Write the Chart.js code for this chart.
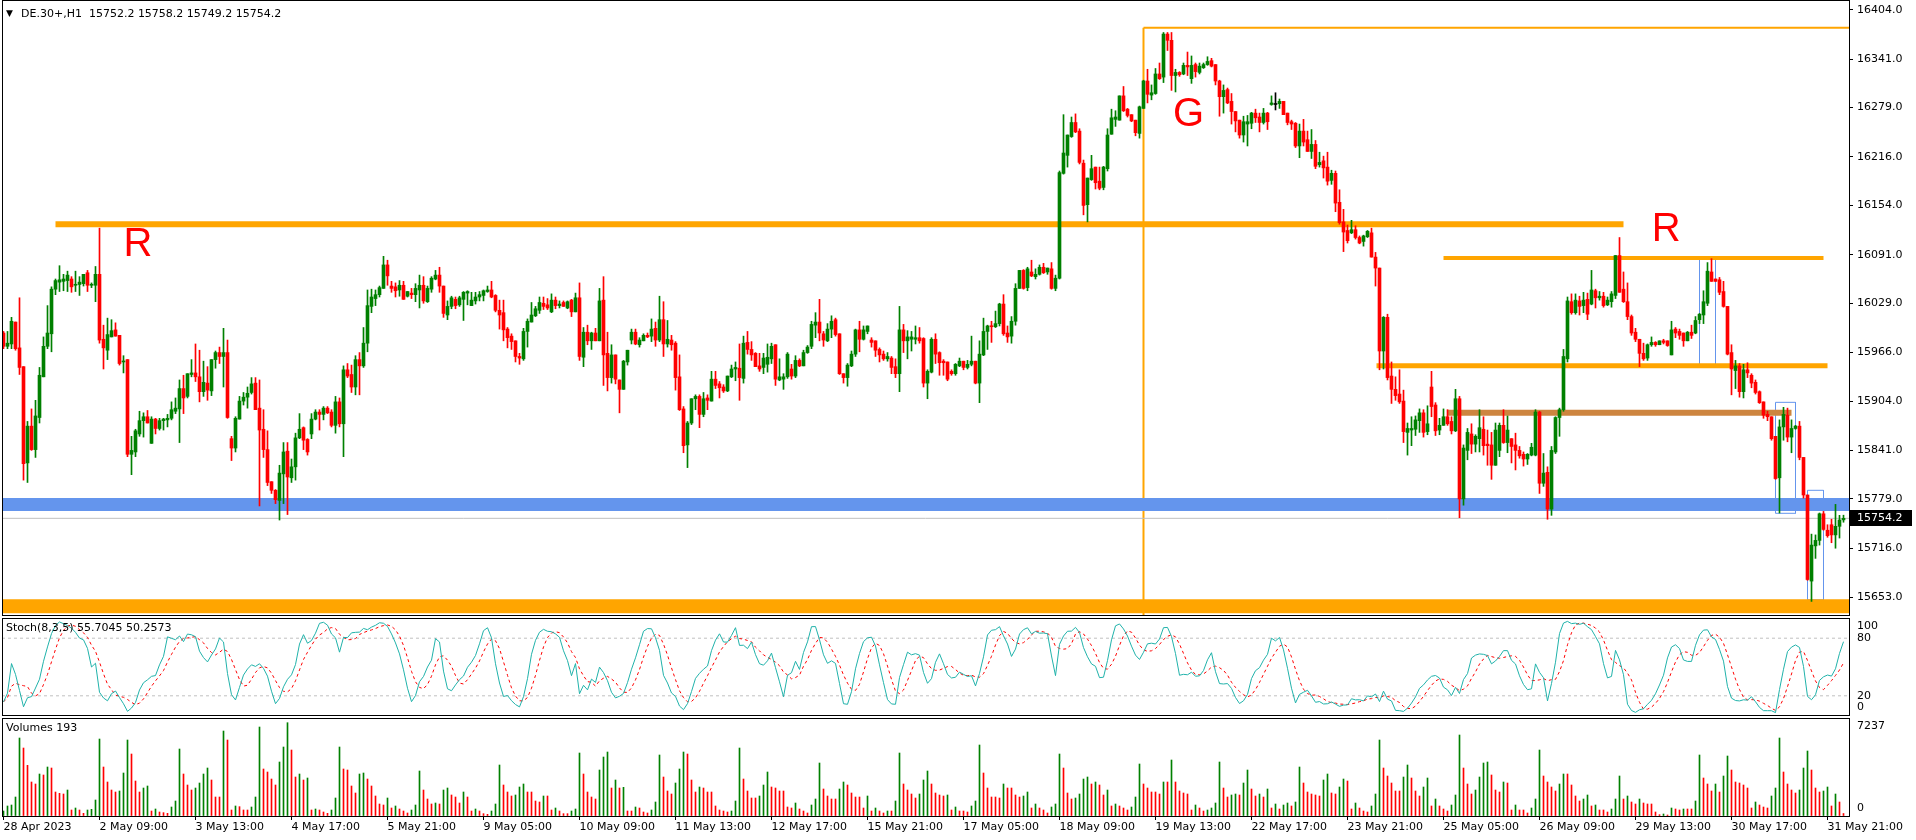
<!DOCTYPE html>
<html lang="en">
<head>
<meta charset="utf-8">
<title>DE.30+,H1</title>
<script src="https://cdn.jsdelivr.net/npm/chart.js@4.4.1/dist/chart.umd.min.js"></script>
<style>
  html, body { margin: 0; padding: 0; background: #fff; overflow: hidden; }
  #terminal { position: relative; width: 1916px; height: 840px; }
  #terminal canvas { position: absolute; left: 0; }
</style>
</head>
<body>
<div id="terminal">
  <canvas id="priceChart" width="1916" height="617" style="top:0"></canvas>
  <canvas id="stochChart" width="1916" height="100" style="top:617px"></canvas>
  <canvas id="volumeChart" width="1916" height="123" style="top:717px"></canvas>
</div>
<script>
/* chart values ###################### */
const symbolName = "DE.30+,H1";

const timeLabels = [
  "28 Apr 2023", "2 May 09:00", "3 May 13:00", "4 May 17:00", "5 May 21:00",
  "9 May 05:00", "10 May 09:00", "11 May 13:00", "12 May 17:00", "15 May 21:00",
  "17 May 05:00", "18 May 09:00", "19 May 13:00", "22 May 17:00", "23 May 21:00",
  "25 May 05:00", "26 May 09:00", "29 May 13:00", "30 May 17:00", "31 May 21:00",
];
const labelStep = 24; // bars between two time labels

const priceTicks = [16404.0, 16341.0, 16279.0, 16216.0, 16154.0, 16091.0, 16029.0,
  15966.0, 15904.0, 15841.0, 15779.0, 15716.0, 15653.0];
const stochTicks = [100, 80, 20, 0];
const stochLevels = [20, 80];
const stochTitle = "Stoch(8,3,5) 55.7045 50.2573";
const volumeTicks = [7237, 0];

const opens = [
  15991,15974,15977,16005,15972,15948,15825,15872,15842,15883,
  15935,15974,15990,16047,16056,16057,16058,16060,16052,16053,
  16054,16068,16052,16052,16066,15983,15969,15986,15995,15988,
  15954,15957,15836,15839,15862,15879,15884,15850,15881,15869,
  15879,15880,15882,15891,15894,15920,15910,15938,15940,15935,
  15916,15927,15917,15957,15966,15961,15966,15856,15844,15881,
  15904,15909,15915,15927,15895,15868,15842,15801,15790,15777,
  15811,15840,15806,15820,15857,15870,15855,15862,15881,15890,
  15887,15895,15890,15873,15903,15875,15944,15938,15922,15957,
  15949,15978,16025,16035,16040,16048,16078,16051,16050,16046,
  16052,16038,16042,16040,16046,16052,16031,16047,16060,16065,
  16051,16014,16025,16034,16027,16034,16042,16026,16032,16037,
  16039,16044,16046,16039,16020,16017,15996,15987,15981,15961,
  15958,15993,16005,16013,16020,16029,16027,16018,16033,16026,
  16030,16023,16033,16018,16036,15960,15992,15981,15991,15981,
  16033,15965,15934,15963,15931,15919,15954,15982,15992,15976,
  15981,15988,15987,15997,15982,16008,15977,15982,15978,15935,
  15894,15848,15876,15907,15910,15887,15908,15904,15932,15926,
  15922,15917,15935,15945,15946,15933,15979,15970,15965,15949,
  15947,15951,15958,15976,15931,15932,15935,15945,15936,15956,
  15949,15966,15974,16001,16005,15990,15981,15996,16008,15990,
  15939,15934,15949,15964,15995,15983,15993,15982,15981,15970,
  15964,15958,15959,15948,15939,15995,15981,15983,15983,15985,
  15984,15927,15941,15983,15966,15955,15954,15942,15939,15949,
  15955,15947,15951,15955,15927,15963,15993,16000,15999,16003,
  16028,15991,15987,16006,16048,16071,16049,16069,16063,16066,
  16075,16069,16073,16048,16061,16195,16218,16242,16260,16249,
  16208,16155,16187,16203,16185,16177,16201,16245,16264,16263,
  16294,16277,16270,16263,16246,16278,16313,16295,16297,16322,
  16318,16373,16365,16320,16324,16322,16333,16316,16334,16324,
  16330,16334,16339,16334,16313,16293,16302,16287,16274,16263,
  16244,16258,16259,16272,16267,16260,16272,16283,16283,16284,
  16287,16272,16261,16259,16230,16249,16238,16223,16232,16206,
  16211,16203,16186,16195,16158,16133,16122,16119,16123,16113,
  16108,16114,16119,16088,16074,15968,16011,15936,15919,15913,
  15904,15864,15867,15868,15879,15889,15865,15922,15899,15867,
  15873,15884,15878,15866,15907,15779,15841,15862,15849,15856,
  15868,15849,15848,15822,15841,15873,15851,15856,15848,15841,
  15836,15830,15835,15835,15890,15799,15813,15766,15839,15883,
  15893,15958,16031,16017,16032,16026,16034,16028,16045,16036,
  16038,16027,16031,16039,16090,16047,16031,16012,15992,15983,
  15965,15959,15976,15979,15976,15981,15981,15963,15996,15993,
  15991,15981,15992,15991,16008,16014,16029,16069,16060,16059,
  16044,16025,15966,15943,15949,15916,15944,15937,15928,15916,
  15903,15887,15884,15859,15806,15871,15886,15858,15869,15872,
  15832,15784,15674,15719,15726,15760,15739,15746,15733,15744,15752.2,
];
const highs = [
  15993,15993,16011,16005,16036,15948,15878,15894,15905,15947,
  15986,16026,16050,16060,16077,16066,16070,16063,16070,16063,
  16066,16071,16055,16076,16125,16001,16010,16008,16004,15988,
  15962,15957,15859,15868,15891,15889,15892,15884,15882,15882,
  15882,15887,15903,15908,15931,15937,15939,15957,15977,15969,
  15955,15948,15957,15968,15973,15997,15982,15859,15884,15910,
  15915,15922,15934,15934,15931,15893,15866,15801,15791,15822,
  15851,15851,15830,15863,15888,15871,15856,15888,15893,15893,
  15897,15897,15893,15910,15908,15949,15952,15950,15962,15966,
  15998,16046,16047,16046,16051,16089,16084,16057,16055,16058,
  16057,16044,16048,16054,16065,16063,16051,16063,16071,16075,
  16051,16032,16038,16037,16038,16044,16045,16043,16043,16044,
  16046,16051,16057,16040,16033,16033,15998,15990,15981,15965,
  15997,16009,16030,16025,16037,16037,16035,16041,16037,16032,
  16032,16032,16034,16042,16055,15998,16001,15992,15997,16048,
  16063,15992,15976,15963,15931,15956,15969,15996,15996,15985,
  15990,15991,16009,16005,16038,16031,16007,15988,15980,15963,
  15897,15878,15907,15912,15912,15915,15912,15942,15942,15929,
  15925,15936,15950,15954,15977,15987,15993,15980,15966,15965,
  15965,15977,15978,15976,15958,15939,15966,15951,15962,15958,
  15969,15975,16006,16017,16034,15993,16003,16013,16010,15990,
  15939,15952,15968,15996,16006,16000,16000,15985,15981,15972,
  15968,15966,15961,15958,16025,16002,15994,15993,16000,15998,
  15985,15944,15985,15990,15967,15957,15954,15944,15952,15959,
  15955,15956,15987,15955,15981,16010,16001,16006,16019,16029,
  16040,16000,16012,16054,16071,16072,16075,16084,16073,16078,
  16080,16074,16081,16065,16198,16270,16244,16267,16271,16252,
  16212,16189,16218,16203,16203,16204,16252,16277,16275,16294,
  16306,16278,16270,16263,16281,16314,16328,16308,16329,16336,
  16375,16375,16375,16328,16325,16336,16350,16345,16336,16336,
  16336,16344,16342,16334,16314,16308,16304,16297,16274,16263,
  16268,16269,16273,16277,16272,16278,16273,16294,16298,16290,
  16287,16272,16263,16260,16258,16264,16249,16251,16237,16222,
  16217,16222,16199,16198,16174,16149,16129,16135,16128,16115,
  16116,16122,16125,16094,16074,16012,16015,15954,15935,15944,
  15918,15876,15884,15885,15894,15893,15898,15942,15902,15882,
  15894,15893,15884,15919,15910,15848,15869,15875,15861,15893,
  15884,15867,15864,15876,15876,15893,15885,15856,15863,15846,
  15839,15837,15850,15893,15891,15837,15820,15846,15884,15895,
  15970,16037,16041,16041,16038,16043,16042,16071,16047,16044,
  16043,16037,16044,16090,16113,16069,16055,16014,15997,15983,
  15978,15977,15986,15980,15981,15983,15981,16006,15998,15996,
  15991,15993,16001,16012,16016,16045,16081,16086,16060,16062,
  16057,16025,15976,15956,15952,15951,15953,15939,15931,15917,
  15903,15891,15884,15859,15880,15896,15895,15880,15873,15878,
  15832,15784,15734,15733,15761,15763,15746,15753,15772,15758,15758.2,
];
const lows = [
  15971,15971,15971,15969,15938,15803,15800,15841,15832,15876,
  15935,15971,15967,16040,16044,16045,16044,16043,16044,16039,
  16051,16044,16049,16031,15978,15945,15957,15986,15987,15950,
  15940,15833,15810,15833,15859,15858,15876,15850,15862,15867,
  15867,15871,15880,15888,15851,15888,15908,15935,15929,15903,
  15910,15905,15911,15946,15952,15922,15882,15828,15839,15881,
  15899,15895,15913,15893,15770,15832,15796,15786,15773,15752,
  15773,15759,15800,15803,15856,15842,15835,15856,15880,15867,
  15880,15888,15871,15863,15871,15833,15934,15915,15912,15912,
  15947,15967,16017,16026,16037,16048,16052,16043,16037,16038,
  16034,16037,16035,16031,16023,16029,16030,16043,16059,16043,
  16011,16008,16022,16022,16025,16007,16027,16026,16028,16032,
  16032,16043,16036,16018,15996,15981,15972,15970,15954,15951,
  15956,15973,16005,16012,16016,16021,16021,16017,16022,16023,
  16025,16022,16012,16018,15956,15948,15976,15970,15981,15981,
  15924,15917,15927,15926,15889,15919,15950,15977,15976,15973,
  15981,15985,15980,15974,15980,15961,15973,15969,15918,15892,
  15838,15819,15874,15893,15870,15884,15893,15904,15920,15908,
  15915,15916,15934,15930,15905,15927,15964,15956,15948,15942,
  15939,15941,15952,15924,15930,15919,15933,15932,15934,15948,
  15949,15965,15971,15985,15981,15974,15980,15985,15987,15938,
  15927,15923,15948,15961,15967,15982,15990,15973,15961,15954,
  15956,15955,15939,15934,15916,15966,15958,15968,15977,15978,
  15922,15907,15940,15952,15937,15937,15930,15937,15937,15948,
  15944,15945,15949,15926,15902,15962,15970,15979,15998,16000,
  15988,15979,15978,16001,16048,16047,16045,16063,16060,16065,
  16067,16066,16047,16045,16060,16194,16203,16241,16247,16207,
  16142,16133,16186,16175,16174,16174,16198,16245,16255,16263,
  16274,16267,16261,16243,16240,16278,16285,16289,16296,16315,
  16311,16352,16301,16299,16319,16321,16320,16310,16318,16322,
  16329,16333,16331,16308,16268,16272,16284,16258,16248,16240,
  16235,16230,16252,16260,16248,16258,16251,16282,16276,16278,
  16270,16257,16251,16228,16215,16230,16223,16214,16201,16203,
  16189,16180,16181,16146,16130,16095,16106,16118,16111,16105,
  16102,16113,16088,16051,15944,15945,15931,15901,15905,15901,
  15851,15835,15847,15860,15864,15858,15861,15884,15860,15861,
  15873,15873,15862,15865,15755,15771,15829,15837,15839,15839,
  15835,15822,15804,15822,15833,15850,15838,15825,15816,15831,
  15821,15823,15834,15834,15786,15795,15753,15758,15837,15859,
  15891,15954,16015,16015,16014,16017,16008,16027,16023,16033,
  16024,16026,16024,16035,16043,16030,16008,15988,15980,15948,
  15956,15956,15974,15974,15976,15977,15974,15963,15985,15983,
  15974,15981,15984,15990,16003,16003,16026,16057,16057,16040,
  16024,15963,15912,15920,15909,15908,15934,15921,15913,15901,
  15882,15879,15854,15804,15761,15854,15852,15838,15868,15829,
  15780,15675,15648,15703,15720,15739,15730,15723,15716,15729,15749.2,
];
const closes = [
  15974,15978,16006,15971,15947,15824,15872,15842,15885,15937,
  15974,15991,16047,16058,16059,16060,16065,16050,16053,16056,
  16066,16052,16053,16066,15982,15972,15989,15994,15987,15952,
  15955,15836,15841,15866,15879,15884,15876,15881,15869,15879,
  15881,15882,15893,15895,15920,15908,15939,15940,15935,15916,
  15928,15918,15957,15966,15961,15966,15883,15844,15882,15904,
  15909,15914,15926,15893,15867,15842,15800,15790,15778,15812,
  15839,15807,15820,15857,15868,15854,15839,15881,15890,15887,
  15895,15889,15873,15903,15875,15944,15936,15922,15957,15949,
  15978,16026,16037,16040,16049,16078,16064,16048,16045,16052,
  16034,16044,16040,16048,16052,16032,16048,16061,16065,16051,
  16016,16025,16036,16026,16036,16043,16044,16033,16037,16040,
  16045,16046,16037,16020,16014,15995,15985,15980,15961,15959,
  15993,16006,16014,16022,16030,16025,16023,16033,16026,16028,
  16025,16031,16018,16036,15961,15992,15981,15991,15981,16032,
  15963,15934,15963,15932,15919,15955,15969,15992,15977,15982,
  15988,15986,15996,15982,16008,15977,15983,15976,15934,15893,
  15847,15876,15907,15910,15887,15907,15905,15932,15924,15921,
  15917,15936,15945,15947,15934,15978,15970,15963,15948,15945,
  15959,15960,15974,15932,15935,15935,15964,15936,15956,15949,
  15966,15973,16002,16005,15991,15982,15996,16006,15989,15939,
  15934,15950,15964,15995,15983,15995,16000,15979,15969,15963,
  15958,15961,15947,15939,15995,15981,15986,15986,15985,15981,
  15927,15942,15983,15964,15953,15953,15932,15939,15951,15955,
  15947,15951,15955,15927,15964,15993,16000,15999,16003,16028,
  15990,15986,16006,16048,16071,16048,16073,16064,16066,16075,
  16068,16074,16048,16061,16196,16221,16244,16260,16248,16209,
  16154,16189,16201,16183,16176,16203,16244,16266,16267,16294,
  16275,16269,16262,16247,16280,16313,16296,16298,16322,16316,
  16373,16365,16320,16324,16321,16333,16331,16333,16325,16332,
  16334,16338,16332,16313,16293,16301,16285,16274,16262,16244,
  16261,16261,16272,16266,16260,16272,16261,16285,16283,16287,
  16270,16260,16258,16230,16249,16235,16223,16232,16204,16209,
  16202,16185,16195,16157,16132,16120,16109,16123,16113,16106,
  16115,16121,16088,16074,15968,16011,15934,15919,15911,15903,
  15865,15869,15869,15880,15889,15864,15875,15897,15866,15873,
  15884,15875,15866,15907,15779,15844,15864,15849,15859,15870,
  15847,15847,15822,15867,15873,15851,15867,15846,15841,15834,
  15830,15836,15845,15890,15799,15812,15766,15841,15883,15893,
  15961,16032,16017,16033,16025,16033,16015,16046,16036,16038,
  16026,16033,16041,16090,16043,16031,16012,15991,15983,15965,
  15958,15976,15979,15976,15981,15979,15975,15995,15991,15988,
  15981,15992,15988,16007,16015,16031,16070,16057,16057,16043,
  16025,15964,15945,15949,15916,15944,15940,15927,15915,15902,
  15886,15884,15856,15805,15871,15887,15858,15869,15872,15832,
  15784,15676,15720,15726,15760,15740,15732,15733,15744,15752,15754.2,
];
const volumes = [
  388,776,853,1473,6049,5273,3929,2637,2482,3257,
  3180,3800,3722,1861,1758,1706,2016,465,620,465,
  207,465,517,1241,5971,3800,2637,2016,1861,1939,
  3335,5894,4808,2714,1861,2171,2327,388,543,310,
  259,207,698,1163,5196,3257,2404,2016,2171,2559,
  3257,3722,2792,1473,1473,6592,5894,465,776,724,
  465,465,698,1473,6902,3645,3412,2869,2404,4188,
  5351,7237,5118,3024,3257,2792,2947,465,543,465,
  310,207,465,1396,5351,3645,3567,2327,1784,3257,
  3335,2869,2327,1551,931,853,1396,620,776,543,
  388,233,465,853,3490,2016,1318,931,1008,931,
  2016,2171,1629,1473,1008,1861,1473,388,543,388,
  181,129,388,931,3955,2404,1861,1551,1629,2249,
  2482,1861,1861,1163,1086,1551,1551,465,620,388,
  181,181,388,543,4886,3257,1861,1473,1318,3567,
  4575,4963,2171,2792,2171,2223,388,388,698,620,
  310,233,465,1086,4731,3024,1939,1706,2559,3645,
  4963,4808,2792,1861,2249,2171,1861,1861,776,465,
  388,310,388,1163,5273,2869,1939,1396,1396,1551,
  2404,3412,2249,2171,1939,1939,698,620,1008,543,
  388,233,853,1318,4110,2094,1551,1318,1318,2094,
  2637,2404,1784,1473,1473,620,1551,388,620,388,
  233,388,388,1163,4886,2482,2016,1706,1396,1706,
  2792,3490,2482,1784,1629,1551,1629,465,698,388,
  388,310,776,1163,5506,3335,2171,1473,1473,1396,
  2482,2171,2171,1629,1473,1551,1861,620,931,620,
  465,233,698,931,4808,3722,1784,1318,1396,1706,
  2869,3024,2482,2637,2404,1629,2016,776,931,776,
  620,465,698,1473,4033,2482,2171,1861,1861,1706,
  2637,2637,4343,2637,1939,1784,1706,465,853,620,
  388,465,620,1008,4188,2171,1473,1629,1706,1629,
  2559,3567,2094,1551,1706,1473,2094,620,931,543,
  853,1008,776,1086,3800,2559,1861,1706,1629,1551,
  2792,3257,1784,1706,2249,2869,2714,543,1008,620,
  388,310,776,1706,5894,3722,3102,2559,1939,1939,
  3024,3955,2947,1939,1551,2249,2947,776,1318,776,
  543,388,853,1629,6282,3722,2482,1706,2016,3024,
  4110,4188,3180,2016,1861,2637,2559,465,853,465,
  465,233,620,1318,5118,3102,2637,2249,1939,2482,
  3257,3257,2404,1551,1163,1318,1629,776,853,465,
  465,310,543,1318,3102,1318,1551,1086,931,1318,
  1008,931,931,310,103,155,78,620,543,465,
  543,543,543,1163,4731,2947,2482,1939,2482,1861,
  3102,4653,3567,2637,2559,2404,2171,620,1086,853,
  698,620,1551,2171,6049,3412,2482,2016,1784,2016,
  3722,5041,3567,2171,1861,1939,2249,776,1706,1086,193,
];

/* drawing objects placed on the price window (bar index / price) */
const xMin = -0.375, xMax = 461.375;
const priceMin = 15630.66, priceMax = 16415.24;
const hLines = [
  { x1: 285, x2: xMax, price: 16381, color: "#FFA500", width: 2 },
  { x1: 13, x2: 405, price: 16130, color: "#FFA500", width: 6 },
  { x1: 360, x2: 455, price: 16087, color: "#FFA500", width: 4 },
  { x1: 343.25, x2: 456, price: 15949, color: "#FFA500", width: 5 },
  { x1: 361, x2: 447, price: 15889, color: "#CD853F", width: 6 },
  { x1: xMin, x2: xMax, price: 15772, color: "#6495ED", width: 13 },
  { x1: xMin, x2: xMax, price: 15642, color: "#FFA500", width: 14 },
  { x1: xMin, x2: xMax, price: 15754.2, color: "#C0C0C0", width: 1 },
];
const vLines = [{ x: 285, from: 16381, to: priceMin, color: "#FFA500", width: 2 }];
const boxes = [
  { x1: 424, x2: 428, top: 16087.7, bottom: 15947.2 },
  { x1: 443, x2: 448, top: 15902.4, bottom: 15760.6 },
  { x1: 451, x2: 455, top: 15790, bottom: 15650 },
];
const notes = [
  { text: "R", x: 30, price: 16089 },
  { text: "G", x: 292.4, price: 16256 },
  { text: "R", x: 412.05, price: 16108 },
];

/* common settings ###################### */
const UP = "#008000", DOWN = "#FF0000", DOJI = "#000000";
const AXIS_W = 67;
const FONT = '"DejaVu Sans", "Noto Sans", sans-serif';
const last = closes.length - 1;
const barIdx = closes.map((c, i) => i);

Chart.defaults.font.family = FONT;
Chart.defaults.font.size = 11;
Chart.defaults.color = "#000";
Chart.defaults.elements.point.radius = 0;

const candleColor = barIdx.map((i) =>
  closes[i] > opens[i] ? UP : closes[i] < opens[i] ? DOWN : DOJI
);
const volumeColor = barIdx.map((i) => (i === 0 || volumes[i] > volumes[i - 1] ? UP : DOWN));

// Stochastic(8,3,5) from the candles above
function stochastic(kPeriod, slowing, dPeriod) {
  const hh = [], ll = [];
  barIdx.forEach((i) => {
    const from = Math.max(0, i - kPeriod + 1);
    hh[i] = Math.max(...highs.slice(from, i + 1));
    ll[i] = Math.min(...lows.slice(from, i + 1));
  });
  const main = barIdx.map((i) => {
    let num = 0, den = 0;
    for (let j = Math.max(0, i - slowing + 1); j <= i; j++) {
      num += closes[j] - ll[j];
      den += hh[j] - ll[j];
    }
    return den ? (100 * num) / den : 50;
  });
  const signal = barIdx.map((i) => {
    const w = main.slice(Math.max(0, i - dPeriod + 1), i + 1);
    return w.reduce((a, b) => a + b, 0) / w.length;
  });
  return { main, signal };
}
const stoch = stochastic(8, 3, 5);

function lineSet(points, color, width, dash) {
  return {
    type: "line",
    data: points,
    borderColor: color,
    borderWidth: width,
    borderDash: dash || [],
    borderCapStyle: "butt",
    pointRadius: 0,
    fill: false,
    tension: 0,
    order: 10,
  };
}

function hiddenX() {
  return { type: "linear", min: xMin, max: xMax, offset: false, display: false };
}

// black frame round each window
const framePlugin = {
  id: "frame",
  afterDraw(chart) {
    const { ctx, chartArea: a } = chart;
    ctx.save();
    ctx.strokeStyle = "#000";
    ctx.lineWidth = 1;
    ctx.strokeRect(Math.round(a.left) + 0.5, Math.round(a.top) - 0.5,
      Math.round(a.right - a.left), Math.round(a.bottom - a.top) + 1);
    ctx.restore();
  },
};

// title and right labels of a sub window, kept inside the window like the terminal does
function paneLabels(title, ticks) {
  return {
    id: "paneLabels",
    afterDraw(chart) {
      const { ctx, chartArea: a } = chart;
      const y = chart.scales.y;
      ctx.save();
      ctx.font = `11px ${FONT}`;
      ctx.fillStyle = "#000";
      ctx.textAlign = "left";
      ctx.textBaseline = "middle";
      ctx.fillText(title, a.left + 4, a.top + 9);
      ticks.forEach((v) => {
        const py = Math.min(Math.max(y.getPixelForValue(v), a.top + 7), a.bottom - 8);
        ctx.fillText(String(v), a.right + 8, py);
      });
      ctx.restore();
    },
  };
}

const priceOverlay = {
  id: "priceOverlay",
  afterDatasetsDraw(chart) {
    const { ctx } = chart;
    const x = chart.scales.x, y = chart.scales.y;
    ctx.save();
    ctx.font = '40px "Liberation Sans", Arial, sans-serif';
    ctx.fillStyle = "#FF0000";
    ctx.textAlign = "left";
    ctx.textBaseline = "alphabetic";
    notes.forEach((n) => ctx.fillText(n.text, x.getPixelForValue(n.x), y.getPixelForValue(n.price)));
    ctx.restore();
  },
  afterDraw(chart) {
    const { ctx, chartArea: a } = chart;
    const y = chart.scales.y;
    ctx.save();
    // header
    ctx.fillStyle = "#000";
    ctx.textBaseline = "middle";
    ctx.font = `9px ${FONT}`;
    ctx.fillText("\u25BC", 6, 14);
    ctx.font = `11px ${FONT}`;
    const ohlc = [opens[last], highs[last], lows[last], closes[last]].map((v) => v.toFixed(1)).join(" ");
    ctx.fillText(`${symbolName}  ${ohlc}`, 21, 14);
    // last price box on the axis
    const py = Math.round(y.getPixelForValue(closes[last]));
    ctx.fillRect(a.right + 1, py - 8, 62, 16);
    ctx.fillStyle = "#fff";
    ctx.fillText(closes[last].toFixed(1), a.right + 8, py);
    ctx.restore();
  },
};

/* price window ###################### */
const objectSets = [
  ...hLines.map((l) => lineSet([{ x: l.x1, y: l.price }, { x: l.x2, y: l.price }], l.color, l.width)),
  ...vLines.map((l) => lineSet([{ x: l.x, y: l.from }, { x: l.x, y: l.to }], l.color, l.width)),
  ...boxes.map((b) => lineSet([
    { x: b.x1, y: b.top }, { x: b.x2, y: b.top }, { x: b.x2, y: b.bottom },
    { x: b.x1, y: b.bottom }, { x: b.x1, y: b.top },
  ], "#6495ED", 1)),
];

new Chart(document.getElementById("priceChart"), {
  type: "bar",
  data: {
    datasets: [
      {
        data: barIdx.map((i) => ({ x: i, y: [lows[i], highs[i]] })),
        backgroundColor: candleColor,
        barThickness: 1,
        grouped: false,
        order: 1,
      },
      {
        data: barIdx.map((i) => ({ x: i, y: [opens[i], closes[i]] })),
        backgroundColor: candleColor,
        barThickness: 3,
        minBarLength: 1,
        grouped: false,
        order: 0,
      },
      ...objectSets,
    ],
  },
  options: {
    responsive: false,
    animation: false,
    events: [],
    layout: { padding: { left: 2, top: 1, right: 0, bottom: 2 } },
    plugins: { legend: { display: false }, tooltip: { enabled: false } },
    scales: {
      x: hiddenX(),
      y: {
        position: "right",
        min: priceMin,
        max: priceMax,
        afterBuildTicks: (s) => { s.ticks = priceTicks.map((v) => ({ value: v })); },
        afterFit: (s) => { s.width = AXIS_W; s.paddingTop = 0; s.paddingBottom = 0; },
        ticks: { padding: 4, color: "#000", callback: (v) => Number(v).toFixed(1) },
        grid: { drawOnChartArea: false, drawTicks: true, tickLength: 4, color: "#000" },
        border: { display: true, color: "#000" },
      },
    },
  },
  plugins: [framePlugin, priceOverlay],
});

/* stochastic window ###################### */
new Chart(document.getElementById("stochChart"), {
  type: "line",
  data: {
    datasets: [
      {
        data: barIdx.map((i) => ({ x: i, y: stoch.main[i] })),
        borderColor: "#20B2AA",
        borderWidth: 1,
        tension: 0,
        order: 0,
      },
      {
        data: barIdx.map((i) => ({ x: i, y: stoch.signal[i] })),
        borderColor: "#FF0000",
        borderWidth: 1,
        borderDash: [3, 3],
        tension: 0,
        order: 1,
      },
      ...stochLevels.map((v) => lineSet([{ x: xMin, y: v }, { x: xMax, y: v }], "#C0C0C0", 1, [3, 3])),
    ],
  },
  options: {
    responsive: false,
    animation: false,
    events: [],
    layout: { padding: { left: 2, top: 2, right: 0, bottom: 2 } },
    plugins: { legend: { display: false }, tooltip: { enabled: false } },
    scales: {
      x: hiddenX(),
      y: {
        position: "right",
        min: 0,
        max: 100,
        afterBuildTicks: (s) => { s.ticks = stochTicks.map((v) => ({ value: v })); },
        afterFit: (s) => { s.width = AXIS_W; s.paddingTop = 0; s.paddingBottom = 0; },
        ticks: { display: false },
        grid: { drawOnChartArea: false, drawTicks: false },
        border: { display: true, color: "#000" },
      },
    },
  },
  plugins: [framePlugin, paneLabels(stochTitle, stochTicks)],
});

/* volume window ###################### */
new Chart(document.getElementById("volumeChart"), {
  type: "bar",
  data: {
    datasets: [
      {
        data: barIdx.map((i) => ({ x: i, y: volumes[i] })),
        backgroundColor: volumeColor,
        barThickness: 1,
        grouped: false,
      },
    ],
  },
  options: {
    responsive: false,
    animation: false,
    events: [],
    layout: { padding: { left: 2, top: 2, right: 0, bottom: 0 } },
    plugins: { legend: { display: false }, tooltip: { enabled: false } },
    scales: {
      x: {
        type: "linear",
        min: xMin,
        max: xMax,
        offset: false,
        afterBuildTicks: (s) => { s.ticks = timeLabels.map((t, k) => ({ value: k * labelStep })); },
        afterFit: (s) => { s.height = 24; s.paddingLeft = 0; s.paddingRight = 0; },
        ticks: {
          autoSkip: false,
          maxRotation: 0,
          align: "start",
          padding: 1,
          color: "#000",
          callback: (v, k) => timeLabels[k],
        },
        grid: { drawOnChartArea: false, drawTicks: true, tickLength: 4, color: "#000", offset: false },
        border: { display: true, color: "#000" },
      },
      y: {
        position: "right",
        min: 0,
        max: 7524,
        afterBuildTicks: (s) => { s.ticks = volumeTicks.map((v) => ({ value: v })); },
        afterFit: (s) => { s.width = AXIS_W; s.paddingTop = 0; s.paddingBottom = 0; },
        ticks: { display: false },
        grid: { drawOnChartArea: false, drawTicks: false },
        border: { display: true, color: "#000" },
      },
    },
  },
  plugins: [framePlugin, paneLabels(`Volumes ${volumes[last]}`, volumeTicks)],
});
</script>
</body>
</html>
